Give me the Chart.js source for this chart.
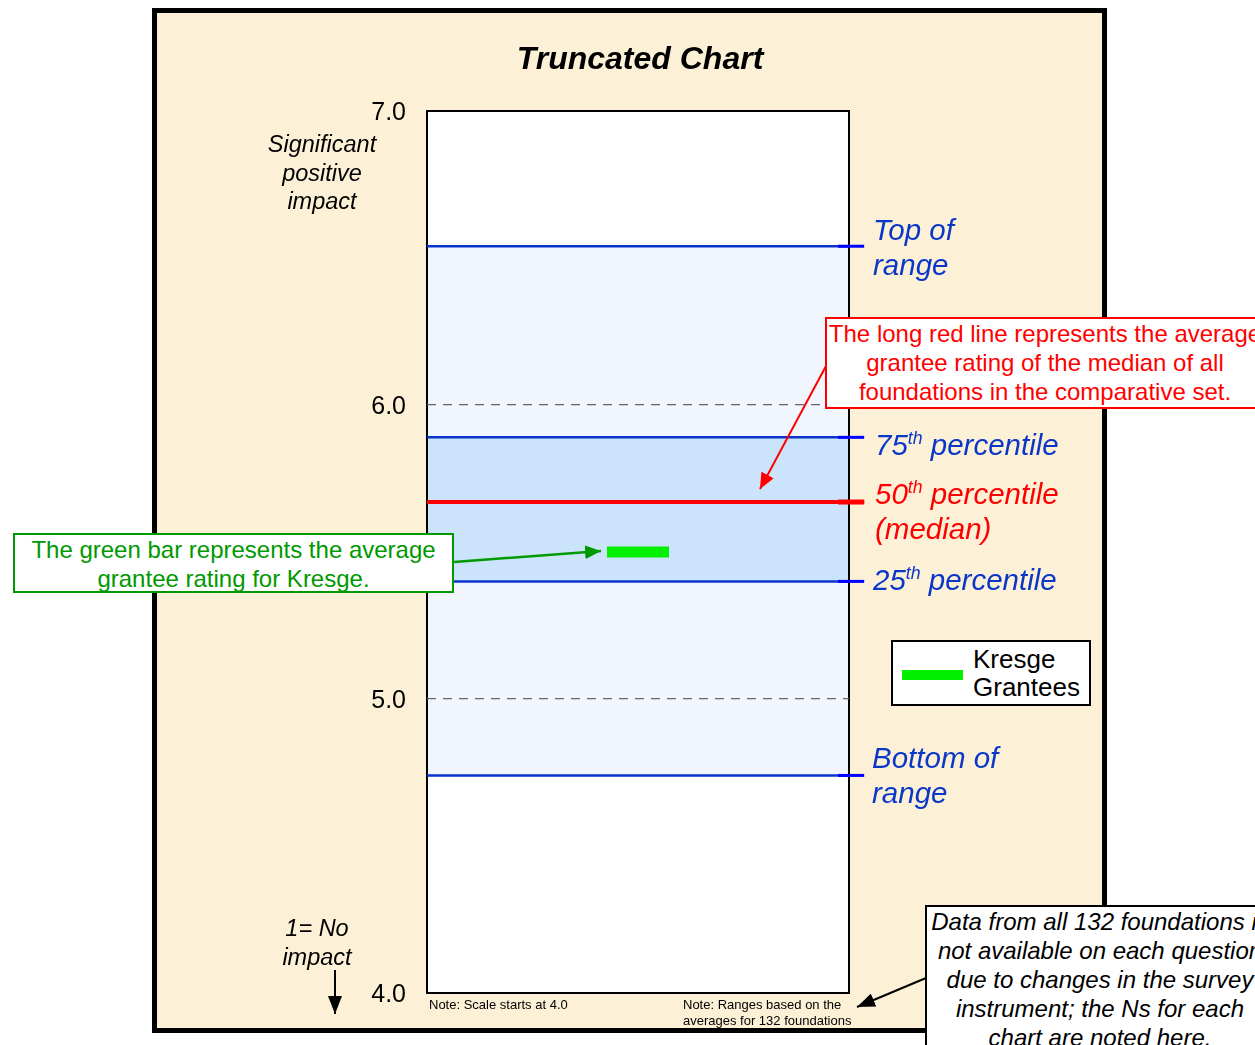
<!DOCTYPE html>
<html>
<head>
<meta charset="utf-8">
<title>Truncated Chart</title>
<script src="https://cdn.jsdelivr.net/npm/chart.js@4.4.0/dist/chart.umd.min.js"></script>
<style>
    body { margin: 0; background: #fff; font-family: "Liberation Sans", Arial, sans-serif; }
    #page { position: relative; width: 1255px; height: 1045px; overflow: hidden; }
    #panel { position: absolute; left: 152px; top: 8px; width: 955px; height: 1025px; box-sizing: border-box;
        border: 5px solid #000; background: #fcf1d6; }
    #chart { position: absolute; left: 0; top: 0; }
    .txt { position: absolute; white-space: nowrap; }
    .blue { color: #0a37c8; font-style: italic; font-size: 29.5px; line-height: 35px; }
    .blue sup, .red sup { font-size: 0.6em; line-height: 0; vertical-align: 0.6em; }
    .red { color: #ff0000; font-style: italic; font-size: 29.5px; line-height: 35px; }
    .note { font-size: 13px; line-height: 16px; color: #000; }
    .box { position: absolute; box-sizing: border-box; background: #fff; text-align: center; white-space: nowrap; overflow: hidden; }
    #arrows { position: absolute; left: 0; top: 0; }
</style>
</head>
<body>
<div id="page">
    <div id="panel"></div>
    <canvas id="chart" width="1255" height="1045"></canvas>

    <div class="txt" style="left:440px; top:40px; width:400px; text-align:center; font-size:32px; line-height:36px; font-weight:bold; font-style:italic;">Truncated Chart</div>

    <div class="txt" style="left:222px; top:130px; width:200px; text-align:center; font-size:23.5px; line-height:28.5px; font-style:italic;">Significant<br>positive<br>impact</div>
    <div class="txt" style="left:217px; top:914px; width:200px; text-align:center; font-size:23.5px; line-height:29px; font-style:italic;">1= No<br>impact</div>

    <div class="txt blue" style="left:873px; top:212px;">Top of<br>range</div>
    <div class="txt blue" style="left:875px; top:427px;">75<sup>th</sup> percentile</div>
    <div class="txt red" style="left:875px; top:476px;">50<sup>th</sup> percentile<br>(median)</div>
    <div class="txt blue" style="left:873px; top:562px;">25<sup>th</sup> percentile</div>
    <div class="txt blue" style="left:872px; top:740px;">Bottom of<br>range</div>

    <div class="txt note" style="left:429px; top:997px;">Note: Scale starts at 4.0</div>
    <div class="txt note" style="left:683px; top:997px;">Note: Ranges based on the<br>averages for 132 foundations</div>

    <div class="box" style="left:891px; top:640px; width:200px; height:66px; border:2px solid #000; text-align:left;">
        <div style="position:absolute; left:9px; top:28px; width:61px; height:10px; background:#00f000;"></div>
        <div style="position:absolute; left:80px; top:3px; font-size:26px; line-height:28px;">Kresge<br>Grantees</div>
    </div>

    <div class="box" style="left:825px; top:317px; width:440px; height:92px; border:2px solid #ff0000; color:#ff0000; font-size:24px; line-height:29px;">The long red line represents the average<br>grantee rating of the median of all<br>foundations in the comparative set.</div>

    <div class="box" style="left:13px; top:533px; width:441px; height:60px; border:2px solid #009900; color:#009900; font-size:24px; line-height:29px;">The green bar represents the average<br>grantee rating for Kresge.</div>

    <div class="box" style="left:925px; top:905px; width:350px; height:160px; border:2px solid #000; font-style:italic; font-size:24px; line-height:29px;">Data from all 132 foundations is<br>not available on each question<br>due to changes in the survey<br>instrument; the Ns for each<br>chart are noted here.</div>

    <svg id="arrows" width="1255" height="1045">
        <defs>
            <marker id="headRed" markerUnits="userSpaceOnUse" markerWidth="16" markerHeight="14" refX="16" refY="7" orient="auto">
                <path d="M0,0 L16,7 L0,14 z" fill="#ff0000"/>
            </marker>
            <marker id="headGreen" markerUnits="userSpaceOnUse" markerWidth="16" markerHeight="14" refX="16" refY="7" orient="auto">
                <path d="M0,0 L16,7 L0,14 z" fill="#009900"/>
            </marker>
            <marker id="headBlack" markerUnits="userSpaceOnUse" markerWidth="18" markerHeight="14" refX="18" refY="7" orient="auto">
                <path d="M0,0 L18,7 L0,14 z" fill="#000"/>
            </marker>
        </defs>
        <line x1="826" y1="366" x2="760" y2="489" stroke="#ff0000" stroke-width="2" marker-end="url(#headRed)"/>
        <line x1="454" y1="562" x2="601" y2="551" stroke="#009900" stroke-width="2.5" marker-end="url(#headGreen)"/>
        <line x1="926" y1="978" x2="857" y2="1007" stroke="#000" stroke-width="2" marker-end="url(#headBlack)"/>
        <line x1="335" y1="970" x2="335" y2="1014" stroke="#000" stroke-width="2" marker-end="url(#headBlack)"/>
    </svg>
</div>

<script>
// values
const yTicks = [4.0, 5.0, 6.0, 7.0];
const rangeNames = ['Top of range', '75th percentile', '50th percentile (median)', '25th percentile', 'Bottom of range'];
const rangeValues = [6.54, 5.89, 5.67, 5.40, 4.74];
const kresgeNames = ['Kresge Grantees'];
const kresgeValues = [5.50];

const BLUE = '#0a33cc';
const TICK_BLUE = '#0000ff';

// horizontal line across the plot, from one end of the x scale to the other
function hLine(y, x0, x1) {
    return [{ x: x0, y: y }, { x: x1, y: y }];
}

function lineDataset(label, value, color, width, order, extra) {
    return Object.assign({
        label: label,
        data: hLine(value, 0, 1),
        borderColor: color,
        borderWidth: width,
        pointRadius: 0,
        tension: 0,
        fill: false,
        clip: false,
        order: order
    }, extra || {});
}

const datasets = [
    lineDataset(rangeNames[0], rangeValues[0], BLUE, 2.5, 10, { fill: 4, backgroundColor: '#f1f6fe' }),
    lineDataset(rangeNames[1], rangeValues[1], BLUE, 2.5, 9, { fill: 3, backgroundColor: '#cce4fb' }),
    lineDataset(rangeNames[2], rangeValues[2], '#ff0000', 4, 2, { data: hLine(rangeValues[2], 0, 1.036) }),
    lineDataset(rangeNames[3], rangeValues[3], BLUE, 2.5, 8),
    lineDataset(rangeNames[4], rangeValues[4], BLUE, 2.5, 8)
];

// short tick marks sticking out on the right of the plot
[0, 1, 3, 4].forEach(i => {
    datasets.push(lineDataset(rangeNames[i] + ' tick', rangeValues[i], TICK_BLUE, 3, 3,
        { data: hLine(rangeValues[i], 0.974, 1.036) }));
});
datasets.push(lineDataset(rangeNames[2] + ' tick', rangeValues[2], '#ff0000', 5, 1,
    { data: hLine(rangeValues[2], 0.974, 1.036) }));

// Kresge grantees: short thick green bar
datasets.push({
    label: kresgeNames[0],
    data: kresgeValues.map(v => ({ x: 0.5, y: v })),
    showLine: false,
    pointStyle: 'line',
    pointRadius: 31,
    pointHoverRadius: 31,
    pointBorderWidth: 11,
    pointBorderColor: '#00f000',
    pointBackgroundColor: '#00f000',
    clip: false,
    order: 0
});

const framePlugin = {
    id: 'frame',
    beforeDraw(chart) {
        const { ctx, chartArea: a } = chart;
        ctx.save();
        ctx.fillStyle = '#ffffff';
        ctx.fillRect(a.left, a.top, a.right - a.left, a.bottom - a.top);
        ctx.restore();
    },
    beforeDatasetsDraw(chart) {
        const { ctx, chartArea: a } = chart;
        ctx.save();
        ctx.strokeStyle = '#000';
        ctx.lineWidth = 2;
        ctx.strokeRect(a.left, a.top, a.right - a.left, a.bottom - a.top);
        ctx.restore();
    }
};

new Chart(document.getElementById('chart').getContext('2d'), {
    type: 'line',
    data: { datasets: datasets },
    options: {
        responsive: false,
        animation: false,
        events: [],
        layout: { padding: { left: 0, right: 406, top: 111, bottom: 52 } },
        plugins: {
            legend: { display: false },
            tooltip: { enabled: false },
            title: { display: false },
            filler: { drawTime: 'beforeDatasetsDraw', propagate: false }
        },
        scales: {
            x: { type: 'linear', min: 0, max: 1, display: false },
            y: {
                type: 'linear',
                min: yTicks[0],
                max: yTicks[yTicks.length - 1],
                afterFit(scale) { scale.width = 427; },
                afterBuildTicks(scale) { scale.ticks = yTicks.map(v => ({ value: v })); },
                ticks: {
                    padding: 21,
                    labelOffset: 2,
                    color: '#000',
                    font: { family: '"Liberation Sans", Arial, sans-serif', size: 25 },
                    callback: v => Number(v).toFixed(1)
                },
                grid: {
                    z: 1,
                    drawTicks: false,
                    lineWidth: 1.3,
                    color: ctx => (ctx.tick && ctx.tick.value > yTicks[0] && ctx.tick.value < yTicks[yTicks.length - 1]) ? '#666666' : 'rgba(0,0,0,0)'
                },
                border: { display: false, dash: [9, 7] }
            }
        }
    },
    plugins: [framePlugin]
});
</script>
</body>
</html>
